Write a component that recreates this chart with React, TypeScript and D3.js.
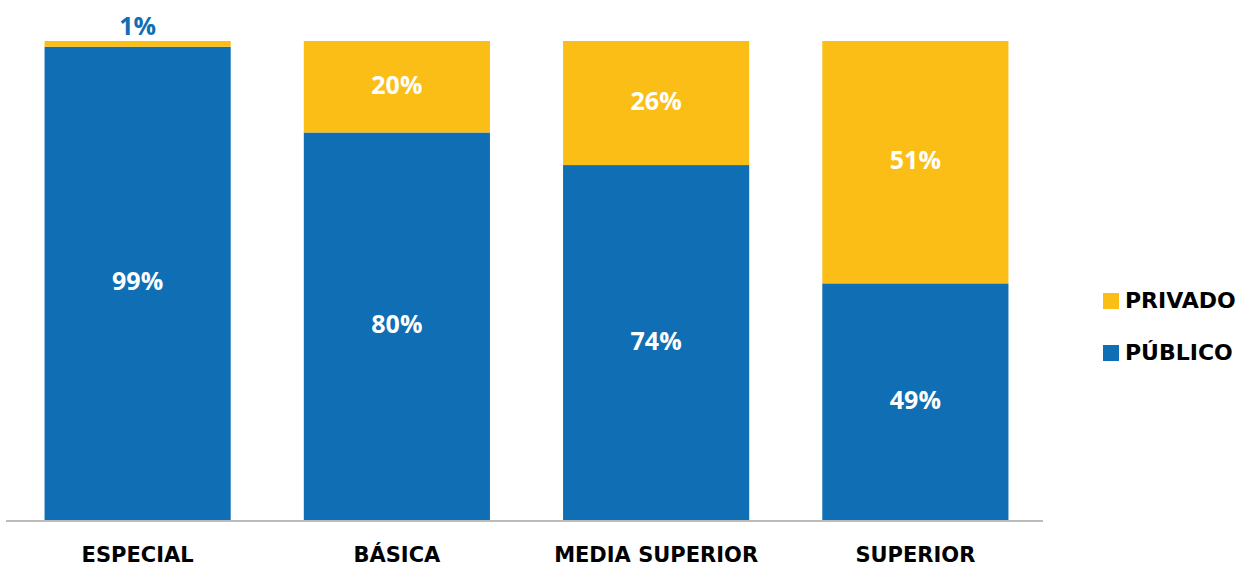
import React from "react";
import * as d3 from "d3";

const categories = ["ESPECIAL", "BÁSICA", "MEDIA SUPERIOR", "SUPERIOR"];
const publico = [98.8, 80.9, 74.1, 49.4];
const privado = [1.2, 19.1, 25.9, 50.6];
const publicoLabels = ["99%", "80%", "74%", "49%"];
const privadoLabels = ["1%", "20%", "26%", "51%"];
const seriesNames = ["PRIVADO", "PÚBLICO"];

const W = 1244;
const H = 566;
const BLUE = "#0F6EB4";
const YELLOW = "#FBBE17";
const catFont = "'DejaVu Sans', sans-serif";
const numFont = "'Open Sans', sans-serif";

export default function App() {
  const x = d3
    .scaleBand<string>()
    .domain(categories)
    .range([8, 1045])
    .paddingInner(0.282)
    .paddingOuter(0.141);
  const y = d3.scaleLinear().domain([0, 100]).range([520, 41]);

  const rows = categories.map((c, i) => ({ cat: c, pub: publico[i], priv: privado[i] }));
  const stack = d3.stack<any>().keys(["pub", "priv"])(rows);
  const colors: Record<string, string> = { pub: BLUE, priv: YELLOW };
  const labels: Record<string, string[]> = { pub: publicoLabels, priv: privadoLabels };

  return (
    <div style={{ position: "absolute", left: 0, top: 0 }}>
      <svg width={W} height={H} style={{ display: "block", background: "#fff" }}>
        {stack.map((layer) =>
          layer.map((d, i) => (
            <rect
              key={layer.key + i}
              x={x(categories[i])}
              y={y(d[1])}
              width={x.bandwidth()}
              height={y(d[0]) - y(d[1])}
              fill={colors[layer.key]}
            />
          ))
        )}
        <line x1={6} x2={1043} y1={521} y2={521} stroke="#A6A6A6" strokeWidth={1.5} />
        {stack.map((layer) =>
          layer.map((d, i) => {
            const cx = (x(categories[i]) as number) + x.bandwidth() / 2;
            const h = y(d[0]) - y(d[1]);
            const small = h < 30;
            const ty = small ? y(d[1]) - 6 : (y(d[0]) + y(d[1])) / 2 + 7;
            return (
              <text
                key={"t" + layer.key + i}
                x={cx}
                y={ty}
                textAnchor="middle"
                fontFamily={numFont}
                fontWeight={700}
                fontSize={25}
                fill={small ? BLUE : "#fff"}
              >
                {labels[layer.key][i]}
              </text>
            );
          })
        )}
        {categories.map((c) => (
          <text
            key={"c" + c}
            x={(x(c) as number) + x.bandwidth() / 2}
            y={562}
            textAnchor="middle"
            fontFamily={catFont}
            fontWeight={700}
            fontSize={21}
            fill="#000"
          >
            {c}
          </text>
        ))}
        {seriesNames.map((s, i) => (
          <g key={"l" + s} transform={`translate(1103, ${293 + i * 52})`}>
            <rect width={16} height={16} fill={i === 0 ? YELLOW : BLUE} />
            <text x={22} y={15} fontFamily={catFont} fontWeight={700} fontSize={22} fill="#000">
              {s}
            </text>
          </g>
        ))}
      </svg>
    </div>
  );
}
